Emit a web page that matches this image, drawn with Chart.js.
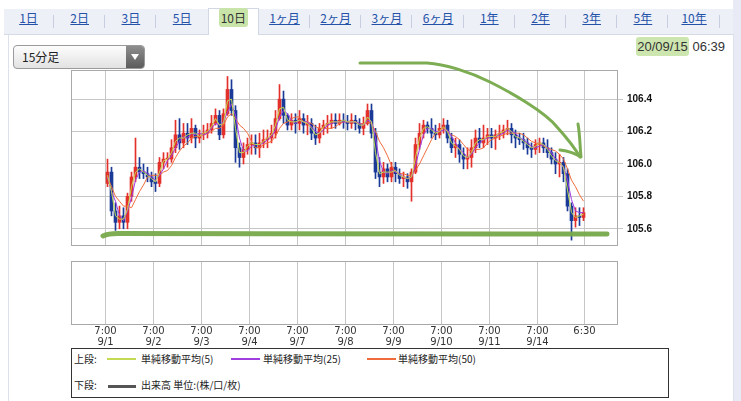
<!DOCTYPE html>
<html lang="ja">
<head>
<meta charset="utf-8">
<title>10日 15分足</title>
<script src="https://cdn.jsdelivr.net/npm/chart.js@4.4.1/dist/chart.umd.min.js"></script>
<style>
  html, body { margin: 0; padding: 0; }
  body { width: 741px; height: 401px; overflow: hidden; position: relative; background: #fff;
         font-family: 'Liberation Sans', Arial, sans-serif; }
  #edge { position: absolute; left: 733px; top: 0; width: 8px; height: 401px; background: #e8ebf5; }
  #panel { position: absolute; left: 8px; top: 34px; width: 724px; height: 380px; background: #fff;
           border-left: 1px solid #dde1ec; border-right: 1px solid #dde1ec; }
  #tabrow { position: absolute; left: 4px; top: 9px; width: 729px; height: 25px; background: #eef0f8;
            border-bottom: 1px solid #d6dae7; }
  .tab { position: absolute; top: 0; width: 51px; height: 25px; line-height: 24px; text-align: center;
         font: 12px 'Noto Sans CJK JP', sans-serif; color: #2352a8; box-sizing: border-box; }
  .tab span { text-decoration: underline; }
  .tab.sep::after { content: ''; position: absolute; right: 0; top: 6px; height: 13px; border-right: 1px solid #c9cde0; }
  .tab.on { background: #fff; border: 1px solid #d2d7e5; border-bottom: none; height: 27px; top: -1px; color: #333; }
  .tab.on span { text-decoration: none; background: #c9e4a8; padding: 1px 2px; border-radius: 3px; }
  #sel { position: absolute; left: 13px; top: 45px; width: 130px; height: 22px; border: 1px solid #9a9a9a;
         border-radius: 4px; background: linear-gradient(#fdfdfd, #e2e2e2);
         font: 12px 'Noto Sans CJK JP', sans-serif; line-height: 22px; color: #222; }
  #sel .txt { position: absolute; left: 8px; top: 0; }
  #sel .btn { position: absolute; right: 0; top: 0; width: 18px; height: 22px; border-radius: 0 3px 3px 0;
              background: linear-gradient(#8e8e8e, #5c5c5c); }
  #sel .btn::after { content: ''; position: absolute; left: 5px; top: 8px; border-left: 4px solid transparent;
                     border-right: 4px solid transparent; border-top: 6px solid #fff; }
  #stamp { position: absolute; right: 16px; top: 39px; font: 13px 'Liberation Sans', Arial, sans-serif; color: #333; }
  #stamp span { background: #cde6b0; border-radius: 3px; padding: 2px 1px; }
  canvas { position: absolute; left: 0; }
  #price { top: 55px; }
  #volume { top: 255px; }
  #legend { position: absolute; left: 71px; top: 348px; width: 596px; height: 48px; border: 1px solid #333;
            background: #fff; font: 10px 'Noto Sans CJK JP', sans-serif; color: #222; }
  #legend div { position: absolute; height: 14px; line-height: 14px; white-space: nowrap; }
  #legend i { position: absolute; height: 2px; }
  #ink { position: absolute; left: 0; top: 0; pointer-events: none; }
</style>
</head>
<body>
<div id="edge"></div>
<div id="panel"></div>
<div id="tabrow"></div>
<div id="sel"><span class="txt">15分足</span><span class="btn"></span></div>
<div id="stamp"><span>20/09/15</span> 06:39</div>
<canvas id="price" width="680" height="200"></canvas>
<canvas id="volume" width="680" height="100"></canvas>
<div id="legend"></div>
<svg id="ink" width="741" height="401">
  <g fill="none" stroke="#77a94a" stroke-linecap="round" stroke-linejoin="round" opacity="0.95">
    <path d="M103 236 Q108 233.5 118 233.5 L607 234" stroke-width="5"/>
    <path d="M360 63 L427 63 C445 64 470 72 490 82 C512 93 545 112 557 127 C566 137 576 150 580 157" stroke-width="3"/>
    <path d="M578 124 C580 135 580 148 581 157 M560 150 C568 151 575 153 581 157" stroke-width="3"/>
  </g>
</svg>
<script>
// 2-hour bars, 9/1 7:00 -> 9/15 7:00 (12 bars a day)
const openP = [
  105.88,105.95,105.71,105.64,105.68,105.64,105.80,105.92,105.98,105.95,105.94,105.92,
  105.89,105.88,106.01,106.03,106.03,106.10,106.18,106.13,106.19,106.16,106.22,106.16,
  106.18,106.19,106.21,106.25,106.30,106.18,106.31,106.46,106.33,106.10,106.04,106.09,
  106.12,106.13,106.10,106.13,106.15,106.16,106.19,106.28,106.40,106.30,106.24,106.27,
  106.25,106.28,106.24,106.25,106.19,106.16,106.22,106.24,106.25,106.27,106.25,106.27,
  106.26,106.25,106.27,106.25,106.22,106.25,106.33,106.19,105.95,105.92,105.97,105.92,
  105.98,105.94,105.91,105.92,105.89,105.95,106.12,106.19,106.24,106.22,106.19,106.18,
  106.22,106.24,106.16,106.10,106.12,106.06,106.03,106.04,106.10,106.16,106.13,106.16,
  106.18,106.16,106.18,106.19,106.21,106.22,106.18,106.16,106.15,106.13,106.10,106.09,
  106.12,106.13,106.10,106.07,106.03,106.00,106.01,105.94,105.74,105.65,105.68,105.67
];
const highP = [
  106.03,105.98,105.76,105.74,105.73,105.82,105.95,106.16,106.04,106.00,105.98,105.95,
  105.94,106.04,106.07,106.07,106.15,106.27,106.28,106.25,106.25,106.28,106.24,106.21,
  106.24,106.25,106.30,106.34,106.33,106.34,106.54,106.52,106.36,106.13,106.13,106.16,
  106.18,106.18,106.19,106.21,106.21,106.24,106.33,106.49,106.45,106.31,106.31,106.31,
  106.33,106.31,106.30,106.28,106.24,106.25,106.27,106.30,106.31,106.31,106.31,106.31,
  106.30,106.31,106.30,106.28,106.29,106.37,106.37,106.22,106.04,106.01,106.00,106.01,
  106.01,105.97,105.95,105.94,105.97,106.16,106.25,106.27,106.26,106.28,106.24,106.25,
  106.28,106.27,106.19,106.16,106.15,106.10,106.10,106.15,106.21,106.22,106.24,106.22,
  106.22,106.21,106.24,106.24,106.27,106.25,106.21,106.19,106.19,106.16,106.13,106.15,
  106.16,106.16,106.15,106.10,106.07,106.06,106.04,105.97,105.76,105.73,105.73,105.73
];
const lowP = [
  105.86,105.68,105.59,105.60,105.60,105.60,105.77,105.89,105.91,105.91,105.89,105.86,
  105.83,105.86,105.97,105.98,106.01,106.07,106.09,106.10,106.12,106.13,106.10,106.13,
  106.15,106.16,106.19,106.24,106.15,106.16,106.30,106.30,106.01,105.98,106.00,106.06,
  106.06,106.06,106.04,106.10,106.10,106.13,106.16,106.27,106.25,106.21,106.21,106.19,
  106.21,106.19,106.18,106.15,106.12,106.13,106.18,106.19,106.22,106.22,106.24,106.22,
  106.21,106.22,106.21,106.19,106.18,106.24,106.16,105.91,105.86,105.88,105.89,105.89,
  105.89,105.88,105.86,105.85,105.77,105.94,106.09,106.16,106.19,106.16,106.15,106.16,
  106.19,106.13,106.07,106.04,106.01,105.97,105.97,105.98,106.07,106.10,106.10,106.12,
  106.10,106.09,106.15,106.16,106.18,106.13,106.10,106.12,106.09,106.06,106.04,106.06,
  106.07,106.07,106.04,106.00,105.94,105.92,105.89,105.71,105.53,105.61,105.62,105.65
];
const closeP = [
  105.95,105.71,105.64,105.68,105.64,105.80,105.92,105.98,105.95,105.94,105.92,105.89,
  105.88,106.01,106.03,106.03,106.10,106.18,106.13,106.19,106.16,106.22,106.16,106.18,
  106.19,106.21,106.25,106.30,106.18,106.31,106.46,106.33,106.10,106.04,106.09,106.12,
  106.13,106.10,106.13,106.15,106.16,106.19,106.28,106.40,106.30,106.24,106.27,106.25,
  106.28,106.24,106.25,106.19,106.16,106.22,106.24,106.25,106.27,106.25,106.27,106.26,
  106.25,106.27,106.25,106.22,106.25,106.33,106.19,105.95,105.92,105.97,105.92,105.98,
  105.94,105.91,105.92,105.89,105.95,106.12,106.19,106.24,106.22,106.19,106.18,106.22,
  106.24,106.16,106.10,106.12,106.06,106.03,106.04,106.10,106.16,106.13,106.16,106.18,
  106.16,106.18,106.19,106.21,106.22,106.18,106.16,106.15,106.13,106.10,106.09,106.12,
  106.13,106.10,106.07,106.03,106.00,106.01,105.94,105.74,105.65,105.68,105.67,105.70
];
const sma5 = [
  105.93,105.83,105.68,105.66,105.66,105.72,105.86,105.95,105.97,105.95,105.93,105.91,
  105.89,105.95,106.02,106.03,106.07,106.14,106.16,106.16,106.18,106.19,106.19,106.17,
  106.19,106.20,106.23,106.28,106.24,106.25,106.39,106.40,106.22,106.07,106.07,106.11,
  106.13,106.12,106.12,106.14,106.16,106.18,106.24,106.34,106.35,106.27,106.26,106.26,
  106.27,106.26,106.25,106.22,106.18,106.19,106.23,106.25,106.26,106.26,106.26,106.27,
  106.26,106.26,106.26,106.24,106.24,106.29,106.26,106.07,105.94,105.95,105.95,105.95,
  105.96,105.93,105.92,105.91,105.92,106.04,106.16,106.22,106.23,106.21,106.19,106.20,
  106.23,106.20,106.13,106.11,106.09,106.05,106.04,106.07,106.13,106.15,106.15,106.17,
  106.17,106.17,106.19,106.20,106.22,106.20,106.17,106.16,106.14,106.12,106.10,106.11,
  106.13,106.12,106.09,106.05,106.02,106.01,105.98,105.84,105.70,105.67,105.68,105.69
];
const sma25 = [
  105.92,105.83,105.77,105.68,105.65,105.71,105.79,105.90,105.95,105.96,105.94,105.92,
  105.90,105.93,105.97,106.02,106.05,106.10,106.14,106.17,106.16,106.19,106.18,106.19,
  106.18,106.19,106.22,106.25,106.24,106.26,106.32,106.37,106.30,106.16,106.08,106.08,
  106.11,106.12,106.12,106.13,106.15,106.17,106.21,106.29,106.33,106.31,106.27,106.25,
  106.27,106.26,106.26,106.23,106.20,106.19,106.21,106.24,106.25,106.26,106.26,106.26,
  106.26,106.26,106.26,106.25,106.24,106.27,106.26,106.16,106.02,105.95,105.94,105.96,
  105.95,105.94,105.92,105.91,105.92,105.99,106.09,106.18,106.22,106.22,106.20,106.20,
  106.21,106.21,106.17,106.13,106.09,106.07,106.04,106.06,106.10,106.13,106.15,106.16,
  106.17,106.17,106.18,106.19,106.21,106.20,106.19,106.16,106.15,106.13,106.11,106.10,
  106.11,106.12,106.10,106.07,106.03,106.01,105.98,105.90,105.78,105.71,105.70,105.70
];
const sma50 = [
  105.92,105.86,105.80,105.77,105.74,105.74,105.73,105.78,105.83,105.87,105.92,105.93,
  105.93,105.93,105.95,105.96,105.99,106.04,106.08,106.11,106.13,106.16,106.17,106.17,
  106.18,106.19,106.20,106.22,106.22,106.24,106.29,106.31,106.28,106.24,106.22,106.19,
  106.14,106.10,106.10,106.12,106.13,106.14,106.17,106.22,106.25,106.26,106.28,106.29,
  106.29,106.26,106.26,106.25,106.23,106.22,106.22,106.22,106.22,106.23,106.25,106.26,
  106.26,106.26,106.26,106.25,106.25,106.26,106.25,106.20,106.14,106.10,106.05,105.99,
  105.95,105.94,105.94,105.93,105.93,105.96,106.00,106.05,106.10,106.15,106.19,106.21,
  106.22,106.20,106.18,106.17,106.15,106.12,106.09,106.08,106.09,106.09,106.10,106.13,
  106.15,106.16,106.17,106.18,106.19,106.19,106.19,106.19,106.18,106.16,106.14,106.13,
  106.12,106.11,106.10,106.09,106.08,106.06,106.03,105.97,105.90,105.86,105.81,105.77
];
const volume = []; // 出来高: none for FX

const seriesNames = ['単純移動平均(5)', '単純移動平均(25)', '単純移動平均(50)'];
const seriesColors = ['#c4da52', '#a03ee0', '#f06c3c'];
const priceTicks = [105.6, 105.8, 106.0, 106.2, 106.4];
const tickTimes = ['7:00','7:00','7:00','7:00','7:00','7:00','7:00','7:00','7:00','7:00','6:30'];
const tickDates = ['9/1','9/2','9/3','9/4','9/7','9/8','9/9','9/10','9/11','9/14',''];
const tickDays = [0,1,2,3,4,5,6,7,8,9,9];
const tabLabels = ['1日','2日','3日','5日','10日','1ヶ月','2ヶ月','3ヶ月','6ヶ月','1年','2年','3年','5年','10年'];
const activeTab = 4;

const barHours = 2;
const barsPerDay = 24 / barHours;
const upColor = '#e4302a', downColor = '#1b3a98';
const gridColor = '#c6c6c6';

// tabs
const tabrow = document.getElementById('tabrow');
tabLabels.forEach((t, k) => {
  const d = document.createElement('div');
  d.className = 'tab' + (k === activeTab ? ' on' : (k !== activeTab - 1 && k < tabLabels.length ? ' sep' : ''));
  d.style.left = (-1 + k * 51.2) + 'px';
  d.innerHTML = '<span>' + t + '</span>';
  tabrow.appendChild(d);
});

// legend box
const legend = document.getElementById('legend');
const legendHtml = [
  '<div style="left:2px;top:3px">上段:</div>',
  '<div style="left:2px;top:29px">下段:</div>',
  '<i style="left:36px;top:36px;width:28px;height:3px;background:#555"></i>',
  '<div style="left:69px;top:29px">出来高 単位:(株/口/枚)</div>'
];
const legendX = [[35, 69], [159, 191], [295, 326]];
seriesNames.forEach((n, k) => {
  legendHtml.push('<i style="left:' + legendX[k][0] + 'px;top:9px;width:29px;background:' + seriesColors[k] + '"></i>');
  legendHtml.push('<div style="left:' + legendX[k][1] + 'px;top:3px">' + n + '</div>');
});
legend.innerHTML = legendHtml.join('');

// x ticks at session starts (7:00) and the last bar time
function tickValue(k) {
  const [h, m] = tickTimes[k].split(':').map(Number);
  const since = (h + m / 60 - 7 + 24) % 24;
  return tickDays[k] * barsPerDay + since / barHours - 0.5;
}
const tickVals = tickTimes.map((_, k) => tickValue(k));

function xAxis(withLabels) {
  return {
    type: 'linear', min: -9.125, max: 127.375, offset: false,
    afterBuildTicks: s => { s.ticks = tickVals.map(v => ({ value: v })); },
    afterFit: s => { s.height = withLabels ? 31 : 0; },
    grid: { color: gridColor, offset: false, drawTicks: false },
    border: { display: false },
    ticks: withLabels ? {
      autoSkip: false, maxRotation: 0, padding: 2, color: '#333',
      font: { family: 'DejaVu Sans', size: 10, lineHeight: 1.1 },
      callback: (v, k) => [tickTimes[k], tickDates[k]]
    } : { display: false }
  };
}

const frame = {
  id: 'frame',
  afterDraw(chart) {
    const { ctx, chartArea: a } = chart;
    ctx.save();
    ctx.strokeStyle = '#a9a9a9';
    ctx.lineWidth = 1;
    ctx.strokeRect(Math.round(a.left) + 0.5, Math.round(a.top) + 0.5,
      Math.round(a.right - a.left), Math.round(a.bottom - a.top));
    ctx.restore();
  }
};

const candleColors = closeP.map((c, i) => c >= openP[i] ? upColor : downColor);
const maSets = [sma5, sma25, sma50].map((arr, k) => ({
  type: 'line',
  label: seriesNames[k],
  data: arr.map((v, i) => ({ x: i, y: v })),
  borderColor: seriesColors[k],
  borderWidth: 1,
  pointRadius: 0,
  tension: 0,
  order: 0
}));

new Chart(document.getElementById('price'), {
  type: 'bar',
  data: {
    datasets: [
      ...maSets,
      {
        label: 'body',
        data: openP.map((o, i) => ({ x: i, y: [o, closeP[i]] })),
        backgroundColor: candleColors,
        grouped: false, categoryPercentage: 1, barPercentage: 1, maxBarThickness: 3, minBarLength: 1,
        order: 1
      },
      {
        label: 'wick',
        data: lowP.map((l, i) => ({ x: i, y: [l, highP[i]] })),
        backgroundColor: candleColors,
        grouped: false, categoryPercentage: 1, barPercentage: 1, maxBarThickness: 1,
        order: 2
      }
    ]
  },
  options: {
    responsive: false,
    animation: false,
    events: [],
    layout: { padding: { left: 71, top: 15, right: 0, bottom: 5 } },
    plugins: { legend: { display: false }, tooltip: { enabled: false } },
    scales: {
      x: xAxis(false),
      y: {
        type: 'linear', position: 'right', min: 105.5, max: 106.58,
        afterBuildTicks: s => { s.ticks = priceTicks.map(v => ({ value: v })); },
        afterFit: s => { s.width = 63; },
        grid: { color: gridColor, tickLength: 6, drawTicks: true },
        border: { display: false },
        ticks: {
          padding: 4, color: '#111',
          font: { family: 'Liberation Sans', size: 10, weight: 'bold' },
          callback: v => v.toFixed(1)
        }
      }
    }
  },
  plugins: [frame]
});

new Chart(document.getElementById('volume'), {
  type: 'bar',
  data: { datasets: [{ label: '出来高', data: volume, backgroundColor: '#555' }] },
  options: {
    responsive: false,
    animation: false,
    events: [],
    layout: { padding: { left: 71, right: 63, top: 6, bottom: 0 } },
    plugins: { legend: { display: false }, tooltip: { enabled: false } },
    scales: {
      x: xAxis(true),
      y: { display: false, min: 0, max: 1 }
    }
  },
  plugins: [frame]
});
</script>
</body>
</html>
